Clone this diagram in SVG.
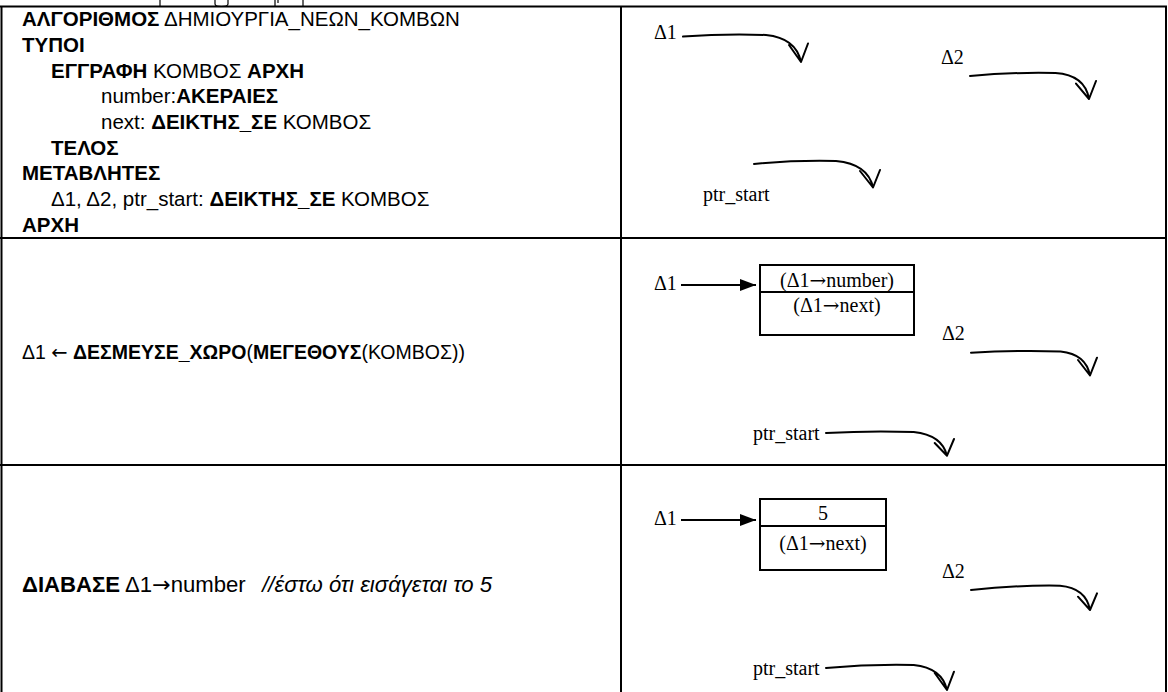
<svg xmlns="http://www.w3.org/2000/svg" width="1168" height="692" viewBox="0 0 1168 692">
<defs>
<style>
.grid{stroke:#000;stroke-width:2;fill:none}
.ar{font-family:"Liberation Sans",Arial,sans-serif;font-size:20.5px;fill:#000}
.b{font-weight:bold}
.it{font-style:italic}
.arw{font-family:"DejaVu Sans",sans-serif;font-weight:normal}
.arws{font-family:"DejaVu Serif",serif}
.tm{font-family:"Liberation Serif","Times New Roman",serif;font-size:20px;fill:#000}
.hand{stroke:#000;stroke-width:2;fill:none;stroke-linecap:round;stroke-linejoin:round}
.box{stroke:#000;stroke-width:2;fill:#fff}
.ptr{stroke:#000;stroke-width:2;fill:none}
.frag{stroke:#000;stroke-width:1.2;fill:none}
</style>
<marker id="tri" viewBox="0 0 10 10" refX="10" refY="5" markerWidth="16" markerHeight="12" preserveAspectRatio="none" markerUnits="userSpaceOnUse" orient="auto">
<path d="M0,0 L10,5 L0,10 Z" fill="#000"/>
</marker>
</defs>
<rect width="1168" height="692" fill="#fff"/>
<g id="cutoff-fragments">
<path class="frag" d="M160,0 V6"/>
<path class="frag" d="M215,0 V4 Q215,6.5 221.5,6.5 Q228,6.5 228,4 V0"/>
<path class="frag" d="M275,0 V6 M278,0 V3"/>
<path class="frag" d="M303,0 V6"/>
</g>
<g id="table">
<path class="grid" d="M0,6.5 H1167 M1.5,6.5 V692 M621,6.5 V692 M1166,6.5 V692 M0,238 H1167 M0,465 H1167"/>
</g>
<g id="cell-declarations">
<text class="ar" x="22" y="26"><tspan class="b">ΑΛΓΟΡΙΘΜΟΣ</tspan> ΔΗΜΙΟΥΡΓΙΑ_ΝΕΩΝ_ΚΟΜΒΩΝ</text>
<text class="ar b" x="22" y="52">ΤΥΠΟΙ</text>
<text class="ar" x="51" y="78"><tspan class="b">ΕΓΓΡΑΦΗ</tspan> ΚΟΜΒΟΣ <tspan class="b">ΑΡΧΗ</tspan></text>
<text class="ar" x="101" y="103">number:<tspan class="b">ΑΚΕΡΑΙΕΣ</tspan></text>
<text class="ar" x="101" y="129">next: <tspan class="b">ΔΕΙΚΤΗΣ_ΣΕ</tspan> ΚΟΜΒΟΣ</text>
<text class="ar b" x="51" y="155">ΤΕΛΟΣ</text>
<text class="ar b" x="22" y="180">ΜΕΤΑΒΛΗΤΕΣ</text>
<text class="ar" x="51" y="206">Δ1, Δ2, ptr_start: <tspan class="b">ΔΕΙΚΤΗΣ_ΣΕ</tspan> ΚΟΜΒΟΣ</text>
<text class="ar b" x="22" y="232">ΑΡΧΗ</text>
</g>
<g id="cell-allocate">
<text class="ar" x="22" y="359" style="font-size:19.5px">Δ1 <tspan class="arw">←</tspan> <tspan class="b">ΔΕΣΜΕΥΣΕ_ΧΩΡΟ</tspan>(<tspan class="b">ΜΕΓΕΘΟΥΣ</tspan>(ΚΟΜΒΟΣ))</text>
</g>
<g id="cell-read">
<text class="ar" x="22" y="592" style="font-size:21.5px" textLength="470" lengthAdjust="spacingAndGlyphs"><tspan class="b">ΔΙΑΒΑΣΕ</tspan> Δ1<tspan class="arw">→</tspan>number <tspan class="it" dx="10">//έστω ότι εισάγεται το 5</tspan></text>
</g>
<g id="state1-labels">
<text class="tm" x="654" y="39">Δ1</text>
<text class="tm" x="941" y="64">Δ2</text>
<text class="tm" x="703" y="201">ptr_start</text>
</g>
<g id="state2-labels">
<text class="tm" x="654" y="290">Δ1</text>
<text class="tm" x="942" y="340">Δ2</text>
<text class="tm" x="753" y="440">ptr_start</text>
</g>
<g id="state2-node">
<rect class="box" x="760" y="265" width="154" height="70"/>
<line class="box" x1="760" y1="292" x2="914" y2="292"/>
<text class="tm" x="837" y="287" text-anchor="middle">(Δ1<tspan class="arws">→</tspan>number)</text>
<text class="tm" x="837" y="312" text-anchor="middle">(Δ1<tspan class="arws">→</tspan>next)</text>
</g>
<g id="state3-labels">
<text class="tm" x="654" y="525">Δ1</text>
<text class="tm" x="942" y="578">Δ2</text>
<text class="tm" x="753" y="675">ptr_start</text>
</g>
<g id="state3-node">
<rect class="box" x="760" y="499" width="126" height="71"/>
<line class="box" x1="760" y1="526" x2="886" y2="526"/>
<text class="tm" x="823" y="520" text-anchor="middle">5</text>
<text class="tm" x="823" y="550" text-anchor="middle">(Δ1<tspan class="arws">→</tspan>next)</text>
</g>
<g id="connectors">
<path class="hand" d="M683,36.6 Q725,33.5 766,35 Q796,38 801,62 M789,45 L801,62 L808,43.5"/>
<path class="hand" d="M970,76 Q1013,72 1055.5,73 Q1085,75 1089,99 M1076,83.6 L1089,99 L1096,81"/>
<path class="hand" d="M754,164 Q795,160 836,161 Q868,164 873,187.5 M860,171 L873,187.5 L880,170"/>
<line class="ptr" x1="681" y1="285" x2="756" y2="285" marker-end="url(#tri)"/>
<path class="hand" d="M971,352.7 Q1016,350 1060.6,351.4 Q1086,354 1090,375.5 M1078,360 L1090,375.5 L1097,357.7"/>
<path class="hand" d="M826,433 Q870,430.5 913.7,432 Q942,435 947,455.7 M934.7,443 L947,455.7 L954,439"/>
<line class="ptr" x1="681" y1="520" x2="756" y2="520" marker-end="url(#tri)"/>
<path class="hand" d="M971,590 Q1016,585 1060,585.7 Q1086,588 1090,610 M1078,596.7 L1090,610 L1097,593.3"/>
<path class="hand" d="M826,668 Q870,664 913.7,665 Q942,668 947,690 M934.7,673 L947,690 L954,671.7"/>
</g>
</svg>
